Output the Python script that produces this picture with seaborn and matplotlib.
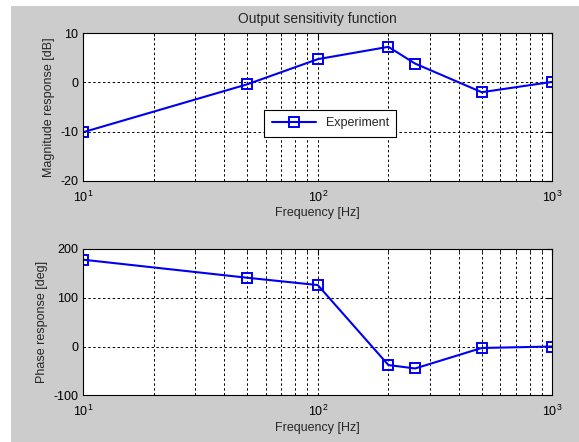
import numpy as np
import pandas as pd
import matplotlib
matplotlib.use("Agg")
import matplotlib.pyplot as plt
from matplotlib.patches import Rectangle
from matplotlib.ticker import LogLocator, NullFormatter
import seaborn as sns

# =========================
# Data
# =========================
freq_hz = [10, 50, 100, 200, 260, 500, 1000]
magnitude_db = [-10.1, -0.4, 4.7, 7.2, 3.8, -2.0, 0.1]
phase_deg = [178, 141, 126, -38, -45, -3, 0]

df = pd.DataFrame({"freq": freq_hz, "mag": magnitude_db, "phase": phase_deg})

sns.set_style("white")
plt.rcParams["font.family"] = ["Liberation Sans", "DejaVu Sans"]
plt.rcParams["font.size"] = 9
plt.rcParams["axes.unicode_minus"] = False
plt.rcParams["mathtext.fontset"] = "custom"
plt.rcParams["mathtext.rm"] = "Liberation Sans"
plt.rcParams["mathtext.it"] = "Liberation Sans:italic"
plt.rcParams["mathtext.bf"] = "Liberation Sans:bold"

fig = plt.figure(figsize=(5.79, 4.42), dpi=100, facecolor="white")
# grey figure area (white strips on left and top, like the screenshot)
fig.patches.append(Rectangle((11 / 579, 0), 1, 1 - 6 / 442, transform=fig.transFigure,
                             facecolor="#cccccc", edgecolor="none", zorder=-10))

ax1 = fig.add_axes([0.1439, 0.5905, 0.810, 0.3348])
ax2 = fig.add_axes([0.1439, 0.1057, 0.810, 0.331])

blue = "#0000f0"
style = dict(color=blue, marker="s", markersize=7, markerfacecolor="none",
             markeredgecolor=blue, markeredgewidth=1.4, linewidth=1.5)

sns.lineplot(data=df, x="freq", y="mag", ax=ax1, label="Experiment", **style)
sns.lineplot(data=df, x="freq", y="phase", ax=ax2, legend=False, **style)

grid_kw = dict(color="black", linestyle=(0, (2.5, 2.5)), linewidth=0.7)
for ax in (ax1, ax2):
    ax.set_xscale("log")
    ax.set_xlim(10, 1000)
    ax.set_facecolor("white")
    ax.xaxis.set_major_locator(LogLocator(base=10))
    ax.xaxis.set_minor_locator(LogLocator(base=10, subs=np.arange(2, 10)))
    ax.xaxis.set_minor_formatter(NullFormatter())
    ax.grid(True, which="major", axis="both", **grid_kw)
    ax.grid(True, which="minor", axis="x", **grid_kw)
    ax.set_axisbelow(True)
    ax.tick_params(which="both", direction="in", top=True, right=True,
                   labelsize=9, colors="black", length=4)
    ax.tick_params(axis="x", which="major", pad=6)
    ax.tick_params(which="minor", length=2)
    for s in ax.spines.values():
        s.set_color("black")
        s.set_linewidth(0.8)
    ax.set_xlabel("Frequency [Hz]", fontsize=9, labelpad=2)

ax1.set_ylim(-20, 10)
ax1.set_yticks([-20, -10, 0, 10])
ax1.set_ylabel("Magnitude response [dB]", fontsize=9)
ax1.set_title("Output sensitivity function", fontsize=10, pad=7)

ax2.set_ylim(-100, 200)
ax2.set_yticks([-100, 0, 100, 200])
ax2.set_ylabel("Phase response [deg]", fontsize=9)

leg = ax1.legend(loc="center", bbox_to_anchor=(0.527, 0.389), frameon=True,
                 fancybox=False, framealpha=1, edgecolor="black", handlelength=3.5,
                 fontsize=9, borderpad=0.6)
leg.get_frame().set_linewidth(0.8)

fig.savefig("out.png", dpi=100, facecolor=fig.get_facecolor())
